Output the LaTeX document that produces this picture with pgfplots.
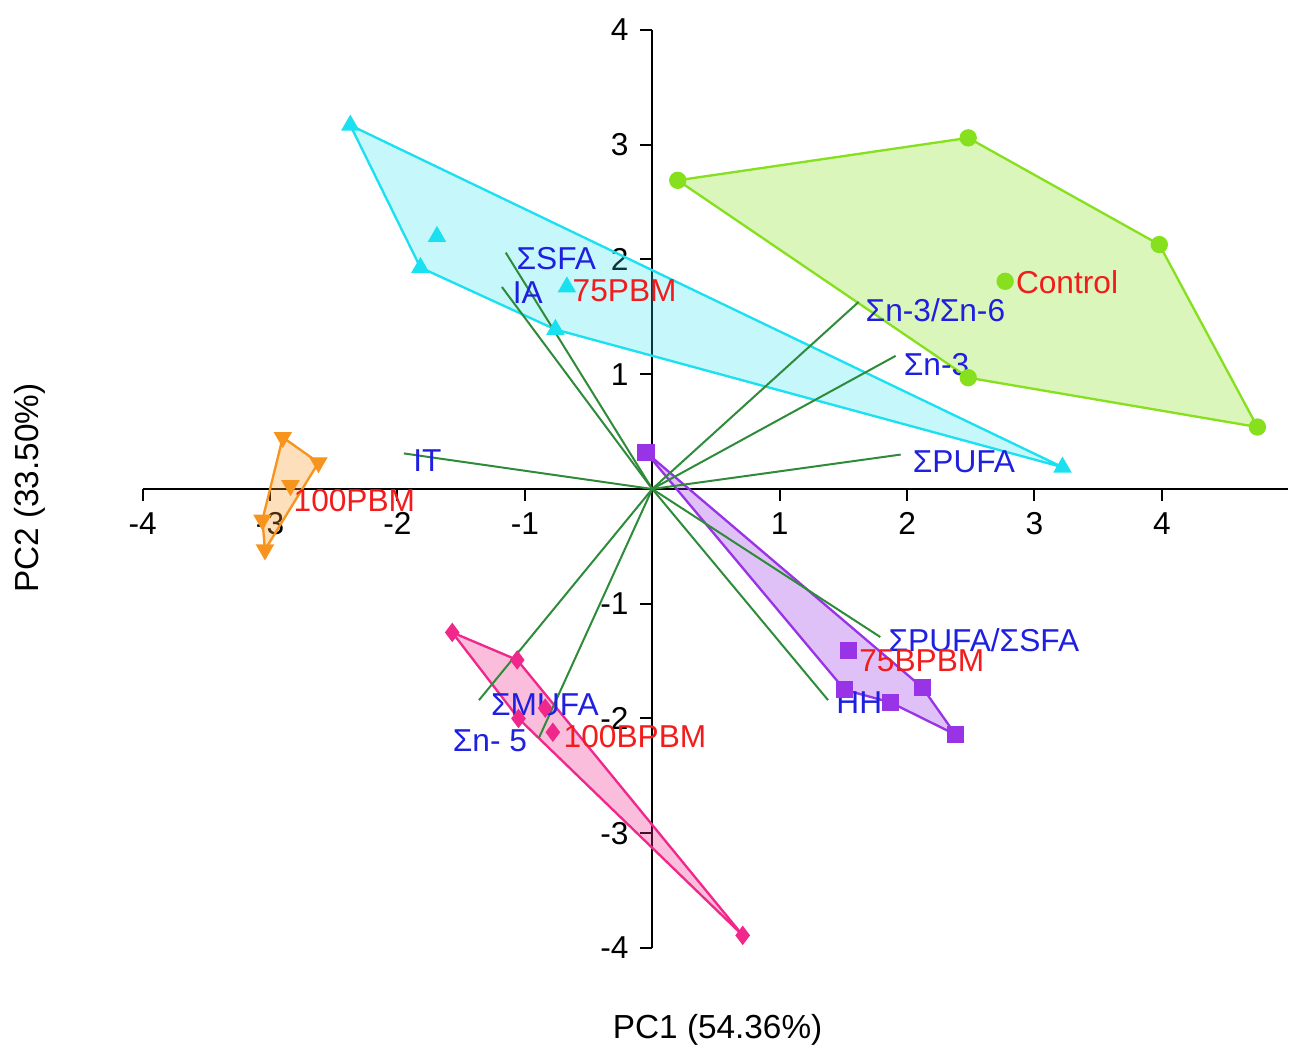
\documentclass[border=0pt]{standalone}
\usepackage{pgfplots}
\pgfplotsset{compat=1.18}
\usepackage{fontspec}
\setmainfont{Liberation Sans}
\definecolor{cyanL}{HTML}{1AE0F0}
\definecolor{grnL}{HTML}{86E01E}
\definecolor{orL}{HTML}{F7941D}
\definecolor{puL}{HTML}{9933E6}
\definecolor{piL}{HTML}{F0288C}
\definecolor{ldg}{HTML}{2E8B3A}
\definecolor{lblB}{HTML}{1F1FE0}
\definecolor{lblR}{HTML}{F21C1C}
\newcommand{\lf}{\fontsize{9.5}{11}\selectfont}
\begin{document}
\begin{tikzpicture}
\begin{axis}[
  at={(0,0)}, anchor=south west,
  scale only axis, width=343.6pt, height=275.4pt,
  xmin=-4, xmax=4.99, ymin=-4, ymax=4,
  axis lines=middle, axis line style={-, black, line width=0.7pt},
  xtick={-4,-3,-2,-1,1,2,3,4}, ytick={-4,-3,-2,-1,1,2,3,4},
  tick style={black, line width=0.6pt}, major tick length=3.6pt,
  tick align=outside,
  ticklabel style={font=\lf},
  /pgf/number format/assume math mode=true,
  clip=false,
  xlabel={PC1 (54.36\%)}, ylabel={PC2 (33.50\%)},
  xlabel style={at={(axis description cs:0.502,-0.089)}, anchor=center, font=\fontsize{10}{12}\selectfont},
  ylabel style={at={(axis description cs:-0.0981,0.501)}, anchor=center, rotate=90, font=\fontsize{10}{12}\selectfont},
]
% hulls
\addplot[draw=grnL, line width=0.7pt, fill=grnL, fill opacity=0.3] coordinates {(0.20,2.69) (2.48,3.06) (3.98,2.13) (4.75,0.54) (2.48,0.97) (0.20,2.69)};
\addplot[draw=cyanL, line width=0.7pt, fill=cyanL, fill opacity=0.25] coordinates {(-2.37,3.17) (3.22,0.19) (-0.76,1.39) (-1.82,1.93) (-2.37,3.17)};
\addplot[draw=orL, line width=0.7pt, fill=orL, fill opacity=0.3] coordinates {(-2.90,0.45) (-2.62,0.23) (-3.04,-0.53) (-3.06,-0.27) (-2.90,0.45)};
\addplot[draw=puL, line width=0.7pt, fill=puL, fill opacity=0.3] coordinates {(-0.05,0.32) (2.12,-1.73) (2.38,-2.14) (1.87,-1.86) (1.51,-1.75) (-0.05,0.32)};
\addplot[draw=piL, line width=0.7pt, fill=piL, fill opacity=0.3] coordinates {(-1.57,-1.25) (-1.06,-1.49) (0.71,-3.89) (-1.05,-2.00) (-1.57,-1.25)};
% loadings
\addplot[ldg, line width=0.6pt] coordinates {(0,0) (-1.15,2.06)};
\addplot[ldg, line width=0.6pt] coordinates {(0,0) (-1.18,1.76)};
\addplot[ldg, line width=0.6pt] coordinates {(0,0) (-1.95,0.31)};
\addplot[ldg, line width=0.6pt] coordinates {(0,0) (1.62,1.63)};
\addplot[ldg, line width=0.6pt] coordinates {(0,0) (1.91,1.16)};
\addplot[ldg, line width=0.6pt] coordinates {(0,0) (1.95,0.30)};
\addplot[ldg, line width=0.6pt] coordinates {(0,0) (1.79,-1.29)};
\addplot[ldg, line width=0.6pt] coordinates {(0,0) (1.38,-1.84)};
\addplot[ldg, line width=0.6pt] coordinates {(0,0) (-1.36,-1.84)};
\addplot[ldg, line width=0.6pt] coordinates {(0,0) (-0.89,-2.17)};
% points
\addplot[only marks, mark=*, mark size=2.4pt, color=grnL] coordinates {(0.20,2.69) (2.48,3.06) (3.98,2.13) (2.77,1.81) (2.48,0.97) (4.75,0.54)};
\addplot[only marks, mark=triangle*, mark size=2.8pt, color=cyanL] coordinates {(-2.37,3.17) (-1.69,2.20) (-1.82,1.93) (-0.67,1.76) (-0.76,1.39) (3.22,0.19)};
\addplot[only marks, mark=triangle*, mark size=2.8pt, color=orL, mark options={rotate=180}] coordinates {(-2.90,0.45) (-2.62,0.23) (-2.84,0.03) (-3.06,-0.27) (-3.04,-0.53)};
\addplot[only marks, mark=square*, mark size=2.4pt, color=puL] coordinates {(-0.05,0.32) (1.54,-1.41) (1.51,-1.75) (1.87,-1.86) (2.12,-1.73) (2.38,-2.14)};
\addplot[only marks, mark=diamond*, mark size=2.6pt, color=piL] coordinates {(-1.57,-1.25) (-1.06,-1.49) (-1.05,-2.00) (-0.84,-1.91) (-0.78,-2.12) (0.71,-3.89)};
% labels
\node[anchor=west, inner sep=0pt, text=lblB, font=\lf] at (axis cs:-1.07,2.01) {ΣSFA};
\node[anchor=west, inner sep=0pt, text=lblB, font=\lf] at (axis cs:-1.10,1.71) {IA};
\node[anchor=west, inner sep=0pt, text=lblB, font=\lf] at (axis cs:-1.88,0.25) {IT};
\node[anchor=west, inner sep=0pt, text=lblB, font=\lf] at (axis cs:1.67,1.56) {Σn-3/Σn-6};
\node[anchor=west, inner sep=0pt, text=lblB, font=\lf] at (axis cs:1.97,1.08) {Σn-3};
\node[anchor=west, inner sep=0pt, text=lblB, font=\lf] at (axis cs:2.04,0.24) {ΣPUFA};
\node[anchor=west, inner sep=0pt, text=lblB, font=\lf] at (axis cs:1.85,-1.32) {ΣPUFA/ΣSFA};
\node[anchor=west, inner sep=0pt, text=lblB, font=\lf] at (axis cs:1.44,-1.86) {HH};
\node[anchor=west, inner sep=0pt, text=lblB, font=\lf] at (axis cs:-1.27,-1.88) {ΣMUFA};
\node[anchor=west, inner sep=0pt, text=lblB, font=\lf] at (axis cs:-1.57,-2.19) {Σn- 5};
\node[anchor=west, inner sep=0pt, text=lblR, font=\lf] at (axis cs:-0.63,1.73) {75PBM};
\node[anchor=west, inner sep=0pt, text=lblR, font=\lf] at (axis cs:2.85,1.80) {Control};
\node[anchor=west, inner sep=0pt, text=lblR, font=\lf] at (axis cs:-2.82,-0.10) {100PBM};
\node[anchor=west, inner sep=0pt, text=lblR, font=\lf] at (axis cs:1.62,-1.50) {75BPBM};
\node[anchor=west, inner sep=0pt, text=lblR, font=\lf] at (axis cs:-0.70,-2.16) {100BPBM};
\end{axis}
\pgfresetboundingbox
\path[use as bounding box] (-42.8pt,-30.3pt) rectangle (346.6pt,284.4pt);
\end{tikzpicture}
\end{document}
